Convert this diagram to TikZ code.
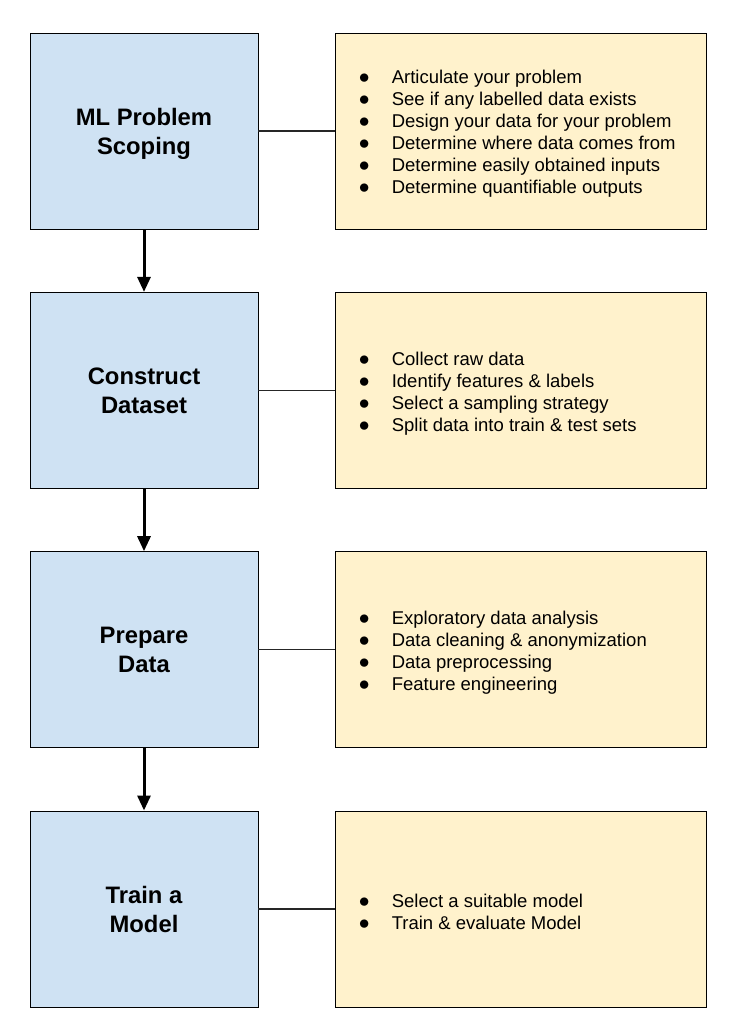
\documentclass[tikz,border=0pt]{standalone}
\usepackage{fontspec}
\setmainfont{Liberation Sans}
\usetikzlibrary{positioning,arrows.meta}

\definecolor{stepblue}{HTML}{CFE2F3}
\definecolor{noteyellow}{HTML}{FFF2CC}

\tikzset{
  stagebox/.style={draw=black, line width=0.8pt, fill=stepblue,
    minimum width=228pt, minimum height=196pt, align=center, text depth=-2pt,
    font=\fontsize{23.8}{29}\selectfont\bfseries},
  notebox/.style={draw=black, line width=0.8pt, fill=noteyellow,
    minimum width=371pt, minimum height=196pt},
  notetext/.style={anchor=west, inner sep=0pt, align=left,
    font=\fontsize{18.5}{22}\selectfont},
  link/.style={draw=black!85, line width=1.4pt},
  arr/.style={line width=3pt, -{Triangle[width=13pt,length=15pt]}}
}
\newcommand{\itm}{\makebox[33pt][l]{\scalebox{1.25}{$\bullet$}}}

\begin{document}
\begin{tikzpicture}[x=1pt,y=1pt, node distance=62.5pt and 76.2pt]
\useasboundingbox (0,0) rectangle (741,-1033);

% этапы
\node[stagebox] (s1) at (144,-131) {ML Problem\\Scoping};
\node[stagebox, below=of s1] (s2) {Construct\\Dataset};
\node[stagebox, below=of s2] (s3) {Prepare\\Data};
\node[stagebox, below=of s3] (s4) {Train a\\Model};

% заметки
\foreach \i in {1,...,4}
  \node[notebox, right=of s\i] (r\i) {};

\node[notetext] (t1) at ([xshift=24pt,yshift=-3pt]r1.west) {%
  \itm Articulate your problem\\
  \itm See if any labelled data exists\\
  \itm Design your data for your problem\\
  \itm Determine where data comes from\\
  \itm Determine easily obtained inputs\\
  \itm Determine quantifiable outputs};
\node[notetext] (t2) at ([xshift=24pt,yshift=-3pt]r2.west) {%
  \itm Collect raw data\\
  \itm Identify features \& labels\\
  \itm Select a sampling strategy\\
  \itm Split data into train \& test sets};
\node[notetext] (t3) at ([xshift=24pt,yshift=-3pt]r3.west) {%
  \itm Exploratory data analysis\\
  \itm Data cleaning \& anonymization\\
  \itm Data preprocessing\\
  \itm Feature engineering};
\node[notetext] (t4) at ([xshift=24pt,yshift=-3pt]r4.west) {%
  \itm Select a suitable model\\
  \itm Train \& evaluate Model};

% связи
\foreach \i in {1,...,4}
  \draw[link] (s\i) -- (r\i);

\foreach \i/\j in {1/2,2/3,3/4}
  \draw[arr] (s\i) -- (s\j);

\end{tikzpicture}
\end{document}
